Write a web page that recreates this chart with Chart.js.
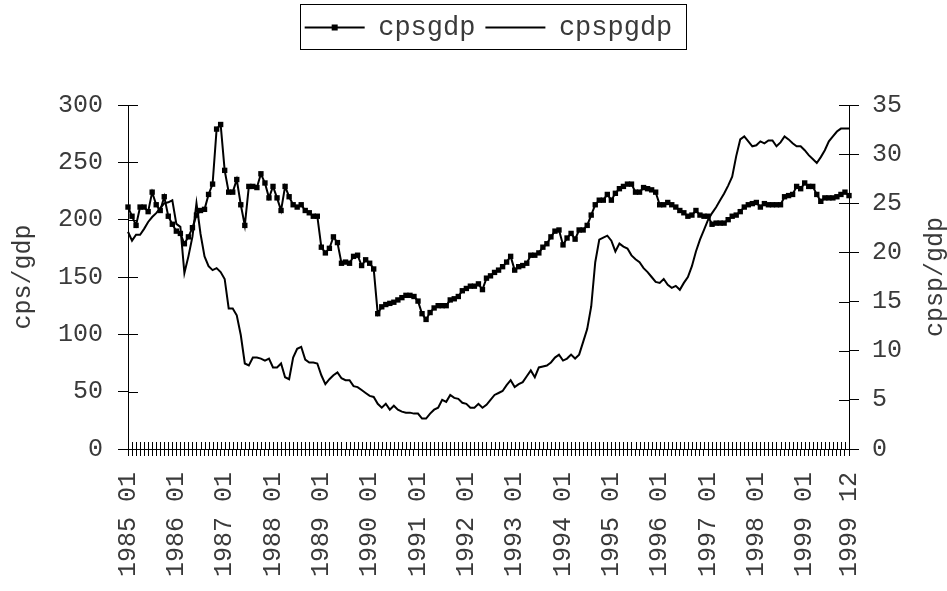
<!DOCTYPE html>
<html>
<head>
<meta charset="utf-8">
<script src="https://cdn.jsdelivr.net/npm/chart.js@4.4.0/dist/chart.umd.min.js"></script>
<style>
html,body{margin:0;padding:0;background:#ffffff;}
#wrap{width:947px;height:591px;position:relative;}
</style>
</head>
<body>
<div id="wrap"><canvas id="c" width="947" height="591"></canvas></div>
<script>
// ---- data ----
const years = [1985,1986,1987,1988,1989,1990,1991,1992,1993,1994,1995,1996,1997,1998,1999];
const monthCodes = ['01','02','03','04','05','06','07','08','09','10','11','12'];
const categories = [];
years.forEach(function(y){ monthCodes.forEach(function(m){ categories.push(y + ' ' + m); }); });

const tickLabels = ['1985 01','1986 01','1987 01','1988 01','1989 01','1990 01','1991 01','1992 01',
  '1993 01','1994 01','1995 01','1996 01','1997 01','1998 01','1999 01','1999 12'];

const cpsgdp = [
  211,203,195,211,211,207,224,213,208,220,
  203,196,190,188,179,185,193,204,208,209,
  222,231,279,283,243,224,224,235,213,195,
  229,229,228,240,232,219,229,219,208,229,
  220,213,211,213,208,206,203,203,176,171,
  175,185,180,162,163,162,168,169,160,165,
  162,157,118,124,126,127,128,130,132,134,
  134,133,129,118,113,119,123,125,125,125,
  130,131,133,138,140,142,142,144,139,149,
  151,154,156,159,163,168,156,159,160,162,
  169,169,171,176,179,185,190,191,178,184,
  188,183,191,191,195,204,213,217,217,222,
  217,223,227,229,231,231,224,224,228,227,
  226,224,213,213,215,213,211,208,206,203,
  204,208,204,203,203,196,197,197,197,200,
  203,204,207,211,213,214,215,211,214,213,
  213,213,213,220,221,222,229,227,232,229,
  229,222,216,219,219,219,220,222,224,221
];

const cpspgdp = [
  22.1,21.2,21.8,21.8,22.4,23.1,23.6,24.0,24.5,25.0,
  25.1,25.3,22.9,22.6,17.9,19.6,21.6,25.0,21.9,19.6,
  18.6,18.2,18.4,18.0,17.3,14.3,14.3,13.6,11.6,8.7,
  8.5,9.3,9.3,9.2,9.0,9.2,8.3,8.3,8.7,7.3,
  7.1,9.3,10.2,10.4,9.1,8.8,8.8,8.7,7.5,6.6,
  7.1,7.5,7.8,7.2,7.0,7.0,6.4,6.3,6.0,5.7,
  5.4,5.3,4.6,4.2,4.6,4.0,4.4,4.0,3.8,3.7,
  3.7,3.6,3.6,3.1,3.1,3.6,4.0,4.2,5.0,4.8,
  5.5,5.2,5.1,4.7,4.6,4.2,4.2,4.6,4.2,4.5,
  5.0,5.5,5.7,5.9,6.5,7.0,6.3,6.6,6.8,7.4,
  8.0,7.3,8.3,8.4,8.5,8.8,9.3,9.6,9.0,9.2,
  9.6,9.2,9.6,10.9,12.2,14.5,19.0,21.3,21.5,21.7,
  21.2,20.1,20.9,20.6,20.4,19.7,19.3,19.0,18.4,18.0,
  17.5,17.0,16.9,17.3,16.7,16.4,16.6,16.2,16.9,17.5,
  18.6,20.1,21.3,22.3,23.3,24.0,24.6,25.3,26.0,26.8,
  27.7,29.8,31.5,31.8,31.3,30.8,30.9,31.3,31.1,31.4,
  31.4,30.8,31.2,31.8,31.5,31.1,30.8,30.8,30.4,29.9,
  29.5,29.1,29.7,30.4,31.3,31.8,32.3,32.6,32.6,32.6
];

const seriesNames = ['cpsgdp','cpspgdp'];
const axisTitles = ['cps/gdp','cpsp/gdp'];

// ---- styling ----
const FONT = '"Liberation Mono", "DejaVu Sans Mono", monospace';
const TEXT = '#3a3a3a';
const AREA = {left:128, right:849, top:105, bottom:449};
const LEGEND_TOP = 4;

const layoutFix = {
  id: 'layoutFix',
  afterLayout(chart) {
    const lg = chart.legend;
    if (lg) {
      const w = lg.width, h = lg.height;
      const c = (chart.chartArea.left + chart.chartArea.right) / 2;
      lg.left = c - w / 2;
      lg.right = c + w / 2;
      lg.top = LEGEND_TOP;
      lg.bottom = LEGEND_TOP + h;
    }
  }
};

const extras = {
  id: 'extras',
  afterDraw(chart) {
    const ctx = chart.ctx;
    const xs = chart.scales.x, yl = chart.scales.y, yr = chart.scales.y1;
    ctx.save();
    ctx.strokeStyle = '#000';
    ctx.lineWidth = 1;
    ctx.beginPath();
    // inward halves of the crossing tick marks
    xs.ticks.forEach(function(t, i){
      const px = Math.round(xs.getPixelForTick(i)) + 0.5;
      ctx.moveTo(px, xs.top - 7);
      ctx.lineTo(px, xs.top);
    });
    yl.ticks.forEach(function(t, i){
      const py = Math.round(yl.getPixelForTick(i)) + 0.5;
      ctx.moveTo(yl.right, py);
      ctx.lineTo(yl.right + 10, py);
    });
    yr.ticks.forEach(function(t, i){
      const py = Math.round(yr.getPixelForTick(i)) + 0.5;
      ctx.moveTo(yr.left - 10, py);
      ctx.lineTo(yr.left, py);
    });
    ctx.stroke();

    // right axis title, reading bottom-to-top like the left one
    ctx.fillStyle = TEXT;
    ctx.font = '25px ' + FONT;
    ctx.textAlign = 'center';
    ctx.textBaseline = 'middle';
    ctx.translate(935, (yr.top + yr.bottom) / 2);
    ctx.rotate(-Math.PI / 2);
    ctx.fillText(axisTitles[1], 0, 0);
    ctx.restore();

    // legend frame and marker
    const lg = chart.legend;
    if (lg && lg.legendHitBoxes && lg.legendHitBoxes.length) {
      const hb = lg.legendHitBoxes;
      const first = hb[0], last = hb[hb.length - 1];
      ctx.save();
      ctx.strokeStyle = '#000';
      ctx.lineWidth = 1;
      const l = Math.round(first.left - 5) + 0.5;
      const r = Math.round(last.left + last.width + 14) + 0.5;
      const t = Math.round(first.top - 10) + 0.5;
      const b = Math.round(first.top + first.height + 8) + 0.5;
      ctx.strokeRect(l, t, r - l, b - t);
      ctx.fillStyle = '#000';
      const cy = first.top + first.height / 2;
      const cx = first.left + 30;
      ctx.fillRect(cx - 3, cy - 3, 6, 6);
      ctx.restore();
    }
  }
};

const ctx = document.getElementById('c').getContext('2d');
const chart = new Chart(ctx, {
  type: 'line',
  data: {
    labels: categories,
    datasets: [
      {
        label: seriesNames[0],
        data: cpsgdp,
        yAxisID: 'y',
        borderColor: '#000',
        backgroundColor: '#000',
        borderWidth: 2,
        pointStyle: 'rect',
        pointRadius: 3.8,
        pointBorderWidth: 0,
        pointBackgroundColor: '#000',
        tension: 0,
        fill: false
      },
      {
        label: seriesNames[1],
        data: cpspgdp,
        yAxisID: 'y1',
        borderColor: '#000',
        backgroundColor: '#000',
        borderWidth: 2,
        pointRadius: 0,
        tension: 0,
        fill: false
      }
    ]
  },
  options: {
    responsive: false,
    animation: false,
    devicePixelRatio: 1,
    events: [],
    layout: { padding: { top: 4, left: 0, right: 0, bottom: 0 } },
    plugins: {
      tooltip: { enabled: false },
      legend: {
        display: true,
        position: 'top',
        labels: {
          font: { family: FONT, size: 27 },
          color: TEXT,
          boxWidth: 60,
          boxHeight: 2,
          padding: 10,
          generateLabels: function(c) {
            const items = Chart.defaults.plugins.legend.labels.generateLabels(c);
            items.forEach(function(it){ it.lineWidth = 0; it.fillStyle = '#000'; it.strokeStyle = '#000'; });
            return items;
          }
        }
      }
    },
    scales: {
      x: {
        type: 'category',
        offset: false,
        grid: { drawOnChartArea: false, drawTicks: true, tickLength: 7, color: '#000', lineWidth: 1 },
        border: { display: true, color: '#000', width: 1 },
        ticks: {
          autoSkip: false,
          minRotation: 90,
          maxRotation: 90,
          padding: 16,
          color: TEXT,
          font: { family: FONT, size: 25 },
          callback: function(value, index) {
            const c = categories[index];
            return tickLabels.indexOf(c) >= 0 ? c : '';
          }
        },
        afterFit: function(s) { s.height = 591 - AREA.bottom; s.paddingLeft = 0; s.paddingRight = 0; }
      },
      y: {
        position: 'left',
        min: 0, max: 300,
        grid: { drawOnChartArea: false, drawTicks: true, tickLength: 10, color: '#000', lineWidth: 1 },
        border: { display: true, color: '#000', width: 1 },
        ticks: { stepSize: 50, padding: 15, color: TEXT, font: { family: FONT, size: 25 } },
        title: { display: true, text: axisTitles[0], color: TEXT, font: { family: FONT, size: 25 }, padding: { top: 8, bottom: 0 } },
        afterFit: function(s) { s.width = AREA.left; s.paddingTop = AREA.top; s.paddingBottom = 0; }
      },
      y1: {
        position: 'right',
        min: 0, max: 35,
        grid: { drawOnChartArea: false, drawTicks: true, tickLength: 10, color: '#000', lineWidth: 1 },
        border: { display: true, color: '#000', width: 1 },
        ticks: { stepSize: 5, padding: 13, color: TEXT, font: { family: FONT, size: 25 } },
        title: { display: false },
        afterFit: function(s) { s.width = 947 - AREA.right; s.paddingTop = AREA.top; s.paddingBottom = 0; }
      }
    }
  },
  plugins: [layoutFix, extras]
});
</script>
</body>
</html>
